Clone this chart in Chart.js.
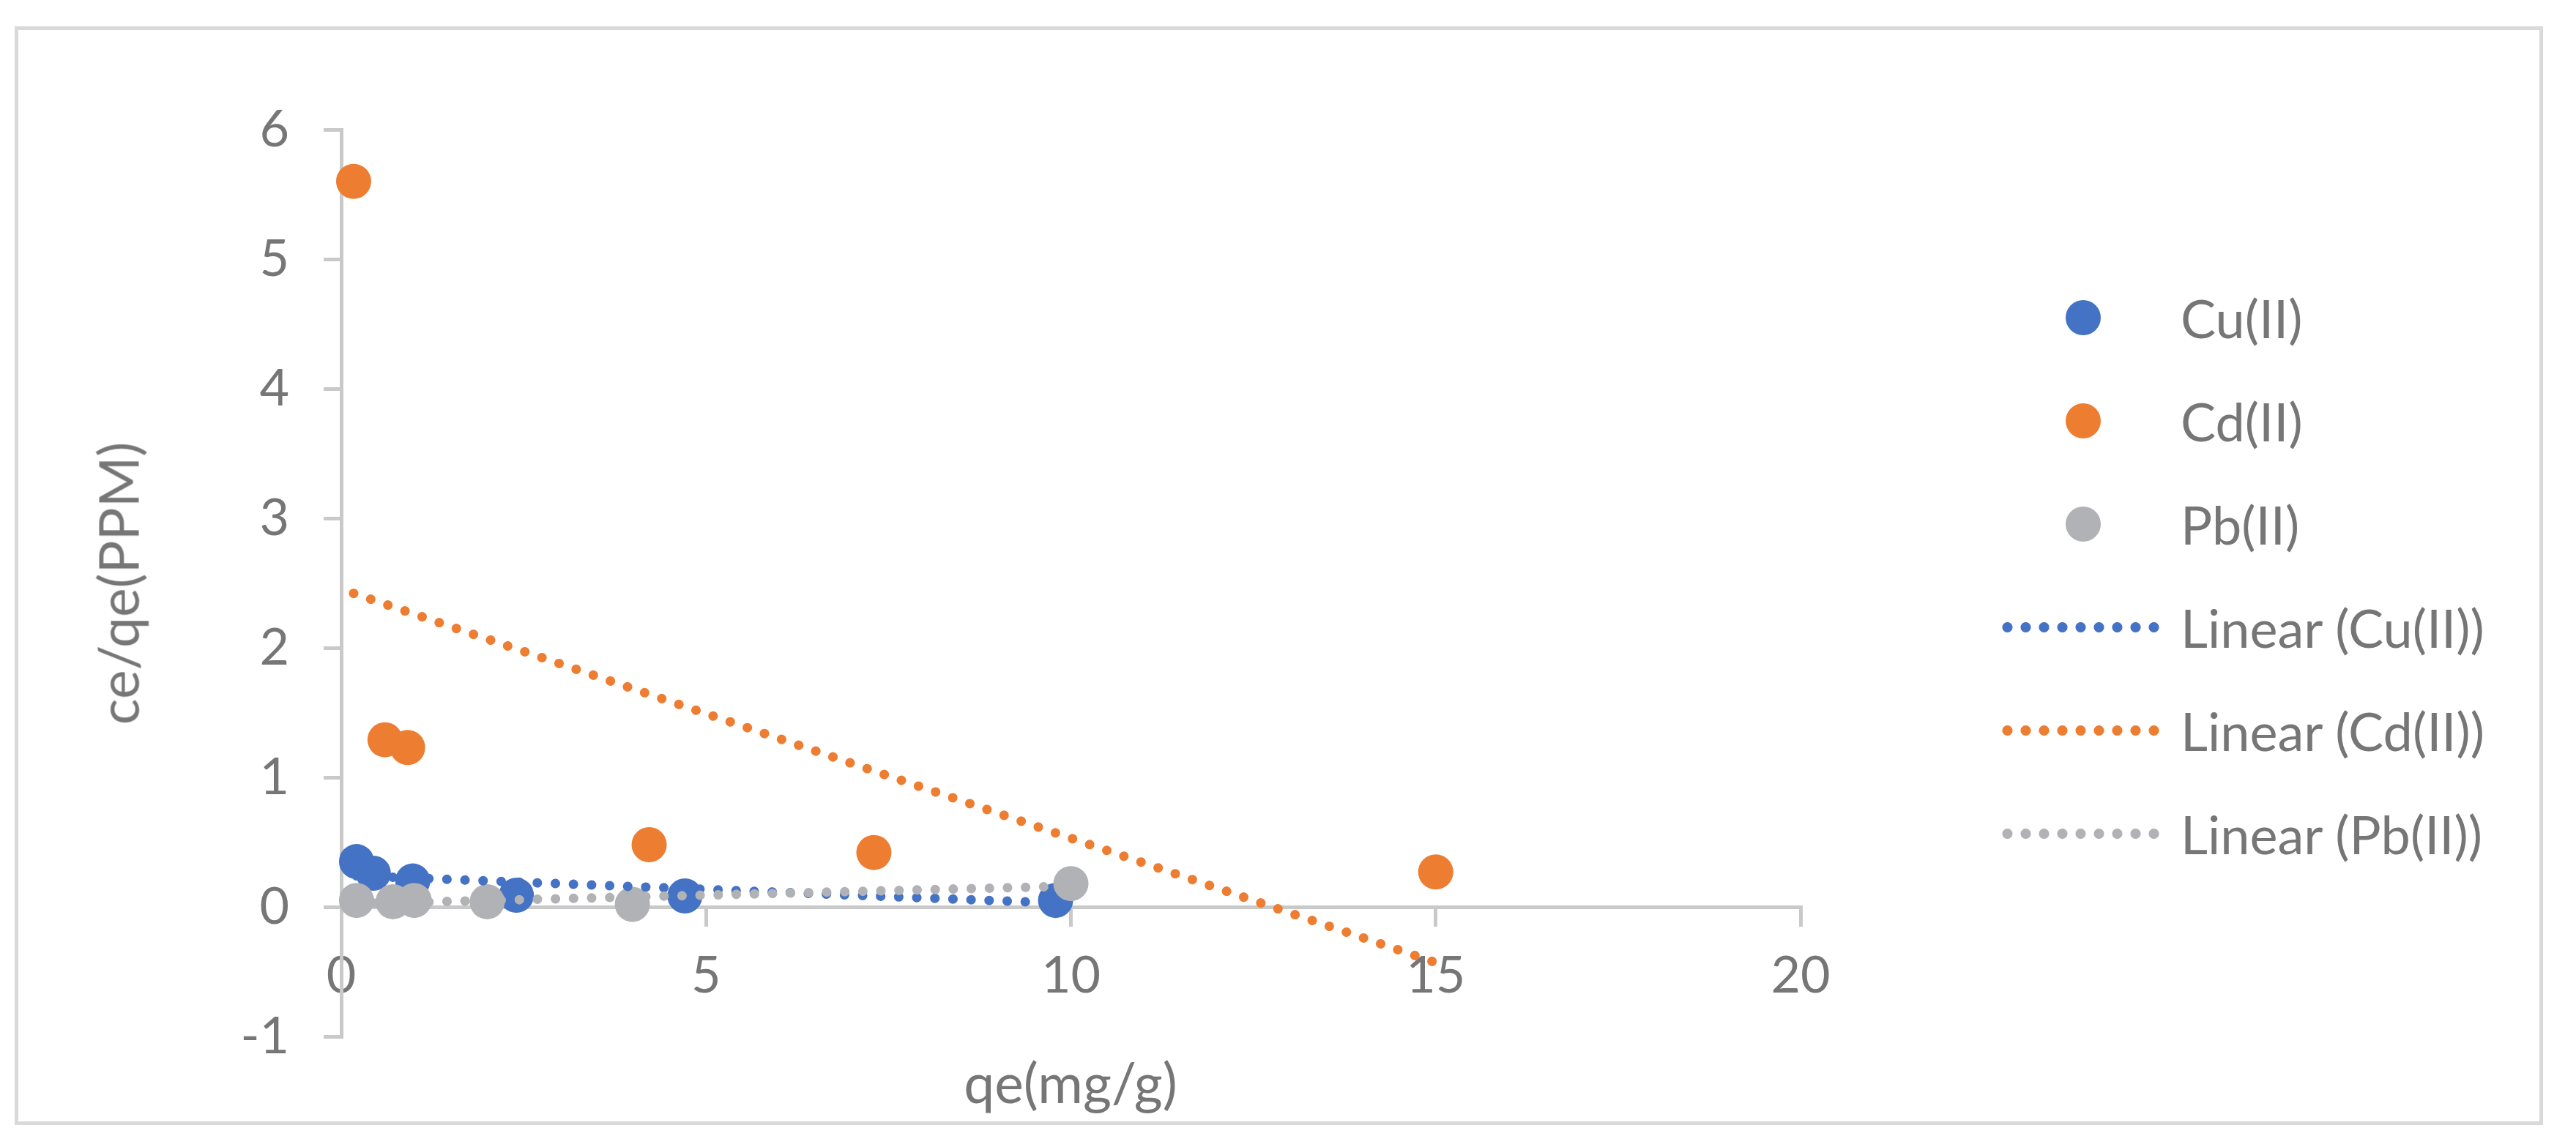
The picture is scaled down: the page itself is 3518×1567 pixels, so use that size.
<!DOCTYPE html>
<html><head><meta charset="utf-8">
<script src="https://cdn.jsdelivr.net/npm/chart.js@4.4.1/dist/chart.umd.min.js"></script>
<style>
html,body{margin:0;padding:0;background:#fff;overflow:hidden;}
#wrap{position:relative;width:3518px;height:1567px;background:#fff;font-family:Lato,"Open Sans",sans-serif;color:#767676;}
#frame{position:absolute;left:20px;top:36px;width:3453px;height:1501px;border:5px solid #d9d9d9;box-sizing:border-box;}
canvas{position:absolute;left:0;top:0;}
.txt{position:absolute;line-height:1;white-space:nowrap;}
.dot{position:absolute;border-radius:50%;}
.dl{position:absolute;height:16px;background-repeat:repeat-x;}
</style></head>
<body><div id="wrap"><div id="frame"></div><canvas id="c" width="3518" height="1567"></canvas></div>
<script>
// ---- data ----
const cuX = [0.21, 0.44, 0.98, 2.40, 4.71, 9.79];
const cuY = [0.35, 0.26, 0.20, 0.09, 0.085, 0.05];
const cdX = [0.17, 0.60, 0.91, 4.22, 7.30, 15.0];
const cdY = [5.60, 1.29, 1.23, 0.48, 0.42, 0.27];
const pbX = [0.21, 0.71, 1.00, 2.00, 3.99, 10.0];
const pbY = [0.05, 0.04, 0.05, 0.04, 0.02, 0.18];
// trendline end points as drawn
const cuTrendX = [0.21, 9.79];
const cuTrendY = [0.24, 0.03];
const cdTrendX = [0.17, 15.0];
const cdTrendY = [2.42, -0.43];
const pbTrendX = [0.21, 10.0];
const pbTrendY = [0.025, 0.16];
const xTicks = [0, 5, 10, 15, 20];
const yTicks = [-1, 0, 1, 2, 3, 4, 5, 6];
const seriesNames = ['Cu(II)', 'Cd(II)', 'Pb(II)'];
const trendNames = ['Linear (Cu(II))', 'Linear (Cd(II))', 'Linear (Pb(II))'];
const xTitle = 'qe(mg/g)';
const yTitle = 'ce/qe(PPM)';

const colors = ['#4472C4', '#ED7D31', '#B1B2B5'];
const textColor = '#767676';
const axisColor = '#C9C9C9';
const FONT = 'Lato, "Open Sans", sans-serif';

const pts = (xs, ys) => xs.map((x, i) => ({x: x, y: ys[i]}));
const scatterSets = [[cuX, cuY], [cdX, cdY], [pbX, pbY]];
const trendSets = [[cuTrendX, cuTrendY], [cdTrendX, cdTrendY], [pbTrendX, pbTrendY]];

const datasets = [];
scatterSets.forEach((s, i) => datasets.push({
  type: 'scatter', label: seriesNames[i], data: pts(s[0], s[1]),
  backgroundColor: colors[i], borderColor: colors[i], pointRadius: 24, pointBorderWidth: 0,
  pointHoverRadius: 24, clip: false, order: 6 - i
}));
trendSets.forEach((s, i) => datasets.push({
  type: 'line', label: trendNames[i], data: pts(s[0], s[1]),
  borderColor: colors[i], backgroundColor: colors[i], borderWidth: 13,
  borderDash: [0.1, 24.6], borderCapStyle: 'round', pointRadius: 0, fill: false,
  tension: 0, clip: false, order: 3 - i
}));

const chart = new Chart(document.getElementById('c'), {
  data: {datasets: datasets},
  options: {
    responsive: false, devicePixelRatio: 1, animation: false,
    events: [],
    layout: {padding: {left: 0, right: 1059, top: 177, bottom: 151}},
    plugins: {legend: {display: false}, tooltip: {enabled: false}, title: {display: false}},
    scales: {
      x: {
        type: 'linear', position: {y: 0}, min: xTicks[0], max: xTicks[xTicks.length - 1],
        afterBuildTicks: s => { s.ticks = xTicks.map(v => ({value: v})); },
        border: {display: true, color: axisColor, width: 5},
        grid: {drawOnChartArea: false, drawTicks: true, tickLength: 24, color: axisColor, lineWidth: 5},
        ticks: {color: textColor, font: {family: FONT, size: 70}, padding: 28, maxRotation: 0}
      },
      y: {
        type: 'linear', position: 'left', min: yTicks[0], max: yTicks[yTicks.length - 1],
        afterBuildTicks: s => { s.ticks = yTicks.map(v => ({value: v})); },
        afterFit: s => { s.width = 466; },
        border: {display: true, color: axisColor, width: 5},
        grid: {drawOnChartArea: false, drawTicks: true, tickLength: 24, color: axisColor, lineWidth: 5},
        ticks: {color: textColor, font: {family: FONT, size: 70}, padding: 47}
      }
    }
  }
});

// ---- titles and legend as HTML text ----
const wrap = document.getElementById('wrap');
function addText(str, left, top, size, extra) {
  const d = document.createElement('div');
  d.className = 'txt'; d.textContent = str;
  d.style.left = left + 'px'; d.style.top = top + 'px'; d.style.fontSize = size + 'px';
  if (extra) Object.assign(d.style, extra);
  wrap.appendChild(d); return d;
}
addText(xTitle, 1462, 1478, 75, {transform: 'translate(-50%,-50%)'});
addText(yTitle, 161, 797, 75, {transform: 'translate(-50%,-50%) rotate(-90deg)'});

const legendTop = 434, legendStep = 141, markerCx = 2845, textLeft = 2978;
seriesNames.forEach((n, i) => {
  const cy = legendTop + legendStep * i;
  const m = document.createElement('div'); m.className = 'dot';
  Object.assign(m.style, {left: (markerCx - 24) + 'px', top: (cy - 24) + 'px', width: '48px', height: '48px', background: colors[i]});
  wrap.appendChild(m);
  addText(n, textLeft, cy, 72, {transform: 'translateY(-50%)'});
});
trendNames.forEach((n, i) => {
  const cy = legendTop + legendStep * (i + 3);
  const l = document.createElement('div'); l.className = 'dl';
  Object.assign(l.style, {left: '2729px', top: (cy - 8) + 'px', width: '225px',
    backgroundImage: 'radial-gradient(circle, ' + colors[i] + ' 6.5px, transparent 7.5px)', backgroundSize: '25px 16px'});
  wrap.appendChild(l);
  addText(n, textLeft, cy, 72, {transform: 'translateY(-50%)'});
});
</script></body></html>
